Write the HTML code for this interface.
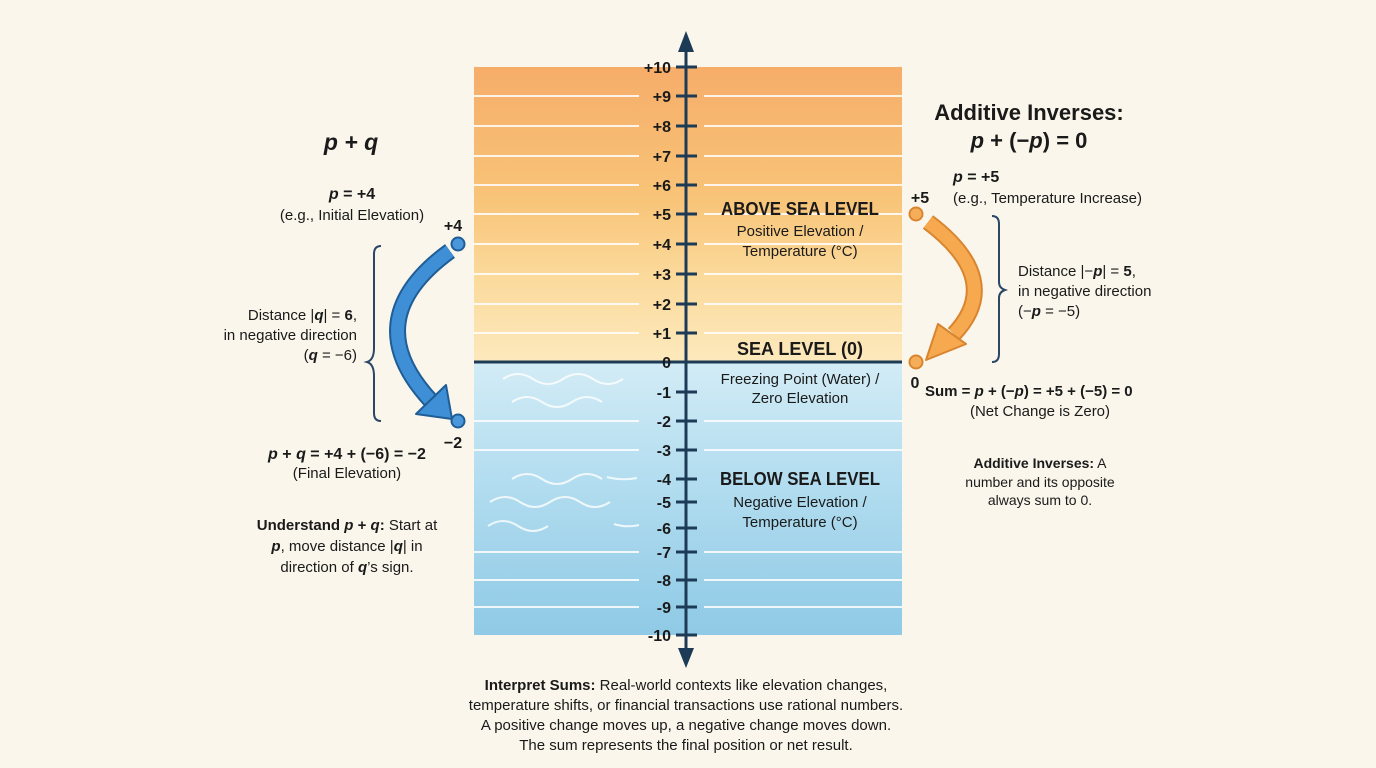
<!DOCTYPE html>
<html><head><meta charset="utf-8"><style>
html,body{margin:0;padding:0;background:#faf6eb;}
svg{display:block;font-family:"Liberation Sans",sans-serif;}
</style></head><body>
<svg width="1376" height="768" viewBox="0 0 1376 768" xmlns="http://www.w3.org/2000/svg">
<defs>
<linearGradient id="og" x1="0" y1="0" x2="0" y2="1">
<stop offset="0" stop-color="#f6ad69"/><stop offset="0.45" stop-color="#f8c478"/><stop offset="0.7" stop-color="#fbd99a"/><stop offset="1" stop-color="#fde9bd"/></linearGradient>
<linearGradient id="bg" x1="0" y1="0" x2="0" y2="1">
<stop offset="0" stop-color="#d3ecf6"/><stop offset="0.4" stop-color="#b5def0"/><stop offset="1" stop-color="#8fcae6"/></linearGradient>
</defs>
<rect width="1376" height="768" fill="#faf6eb"/>
<rect x="474" y="67" width="428" height="295" fill="url(#og)"/>
<rect x="474" y="362" width="428" height="273" fill="url(#bg)"/>
<g stroke="#fff" stroke-width="2" opacity="0.85">
<path d="M474 96H639M704 96H902M474 126H639M704 126H902M474 156H639M704 156H902M474 185H639M704 185H902M474 214H639M704 214H902M474 244H639M704 244H902M474 274H639M704 274H902M474 304H639M704 304H902M474 333H639M704 333H902"/>
<path d="M474 421H639M704 421H902M474 450H639M704 450H902M474 552H639M704 552H902M474 580H639M704 580H902M474 607H639M704 607H902"/>
</g>
<g fill="none" stroke="#fff" stroke-width="2" opacity="0.8">
<path d="M503 379q15-10 30 0q15 10 30 0q15-10 30 0q15 10 30 0"/>
<path d="M512 402q15-10 30 0q15 10 30 0q15-10 30 0"/>
<path d="M512 479q15-10 30 0q15 10 30 0q15-10 30 0"/>
<path d="M490 502q15-10 30 0q15 10 30 0q15-10 30 0q15 10 30 0"/>
<path d="M488 526q15-10 30 0q15 10 30 0"/>
<path d="M607 477q15 4 30 1"/><path d="M614 524q12 4 25 1"/>
</g>
<line x1="474" y1="362" x2="902" y2="362" stroke="#1d3b57" stroke-width="3"/>
<line x1="686" y1="45" x2="686" y2="655" stroke="#1d3b57" stroke-width="3"/>
<polygon points="686,31 678,52 694,52" fill="#1d3b57"/>
<polygon points="686,668 678,648 694,648" fill="#1d3b57"/>
<g stroke="#1d3b57" stroke-width="3">
<path d="M676 67H697M676 96H697M676 126H697M676 156H697M676 185H697M676 214H697M676 244H697M676 274H697M676 304H697M676 333H697M676 362H697M676 392H697M676 421H697M676 450H697M676 479H697M676 502H697M676 528H697M676 552H697M676 580H697M676 607H697M676 635H697"/>
</g>
<g font-weight="bold" font-size="16" fill="#1a1a1a" text-anchor="end">
<text x="671" y="73">+10</text><text x="671" y="102">+9</text><text x="671" y="132">+8</text><text x="671" y="162">+7</text><text x="671" y="191">+6</text><text x="671" y="220">+5</text><text x="671" y="250">+4</text><text x="671" y="280">+3</text><text x="671" y="310">+2</text><text x="671" y="339">+1</text><text x="671" y="368">0</text><text x="671" y="398">-1</text><text x="671" y="427">-2</text><text x="671" y="456">-3</text><text x="671" y="485">-4</text><text x="671" y="508">-5</text><text x="671" y="534">-6</text><text x="671" y="558">-7</text><text x="671" y="586">-8</text><text x="671" y="613">-9</text><text x="671" y="641">-10</text>
</g>
<g fill="#1a1a1a" text-anchor="middle">
<text x="800" y="215" font-size="18" font-weight="bold" textLength="158" lengthAdjust="spacingAndGlyphs">ABOVE SEA LEVEL</text>
<text x="800" y="236" font-size="15">Positive Elevation /</text>
<text x="800" y="256" font-size="15">Temperature (°C)</text>
<text x="800" y="355" font-size="18" font-weight="bold">SEA LEVEL (0)</text>
<text x="800" y="384" font-size="15">Freezing Point (Water) /</text>
<text x="800" y="403" font-size="15">Zero Elevation</text>
<text x="800" y="485" font-size="18" font-weight="bold" textLength="160" lengthAdjust="spacingAndGlyphs">BELOW SEA LEVEL</text>
<text x="800" y="507" font-size="15">Negative Elevation /</text>
<text x="800" y="527" font-size="15">Temperature (°C)</text>
</g>
<!-- left -->
<g fill="#1a1a1a">
<text x="351" y="150" font-size="23" font-weight="bold" font-style="italic" text-anchor="middle">p + q</text>
<text x="352" y="199" font-size="16" font-weight="bold" text-anchor="middle"><tspan font-style="italic">p</tspan> = +4</text>
<text x="352" y="220" font-size="15" text-anchor="middle">(e.g., Initial Elevation)</text>
<text x="453" y="231" font-size="16" font-weight="bold" text-anchor="middle">+4</text>
<text x="357" y="320" font-size="15" text-anchor="end">Distance |<tspan font-weight="bold" font-style="italic">q</tspan>| = <tspan font-weight="bold">6</tspan>,</text>
<text x="357" y="340" font-size="15" text-anchor="end">in negative direction</text>
<text x="357" y="360" font-size="15" text-anchor="end">(<tspan font-weight="bold" font-style="italic">q</tspan> = −6)</text>
<text x="453" y="448" font-size="16" font-weight="bold" text-anchor="middle">−2</text>
<text x="347" y="459" font-size="16" font-weight="bold" text-anchor="middle"><tspan font-style="italic">p</tspan> + <tspan font-style="italic">q</tspan> = +4 + (−6) = −2</text>
<text x="347" y="478" font-size="15" text-anchor="middle">(Final Elevation)</text>
<text x="347" y="530" font-size="15" text-anchor="middle"><tspan font-weight="bold">Understand <tspan font-style="italic">p</tspan> + <tspan font-style="italic">q</tspan>:</tspan> Start at</text>
<text x="347" y="551" font-size="15" text-anchor="middle"><tspan font-weight="bold" font-style="italic">p</tspan>, move distance |<tspan font-weight="bold" font-style="italic">q</tspan>| in</text>
<text x="347" y="572" font-size="15" text-anchor="middle">direction of <tspan font-weight="bold" font-style="italic">q</tspan>’s sign.</text>
</g>
<path d="M381 246q-7 0-7 8v94q0 12-7 14q7 2 7 14v37q0 8 7 8" fill="none" stroke="#2b4766" stroke-width="2"/>
<path d="M450 251Q355 320 432 402" fill="none" stroke="#1f5d96" stroke-width="17"/>
<path d="M450 251Q355 320 432 402" fill="none" stroke="#3f8fd6" stroke-width="13"/>
<polygon points="452,419 416,414 446,385" fill="#3f8fd6" stroke="#1f5d96" stroke-width="2" stroke-linejoin="round"/>
<circle cx="458" cy="244" r="6.5" fill="#4a96da" stroke="#1f5d96" stroke-width="2"/>
<circle cx="458" cy="421" r="6.5" fill="#4a96da" stroke="#1f5d96" stroke-width="2"/>
<!-- right -->
<g fill="#1a1a1a">
<text x="1029" y="120" font-size="22" font-weight="bold" text-anchor="middle">Additive Inverses:</text>
<text x="1029" y="148" font-size="22" font-weight="bold" text-anchor="middle"><tspan font-style="italic">p</tspan> + (−<tspan font-style="italic">p</tspan>) = 0</text>
<text x="953" y="182" font-size="16" font-weight="bold"><tspan font-style="italic">p</tspan> = +5</text>
<text x="953" y="203" font-size="15">(e.g., Temperature Increase)</text>
<text x="920" y="203" font-size="16" font-weight="bold" text-anchor="middle">+5</text>
<text x="1018" y="276" font-size="15">Distance |−<tspan font-weight="bold" font-style="italic">p</tspan>| = <tspan font-weight="bold">5</tspan>,</text>
<text x="1018" y="296" font-size="15">in negative direction</text>
<text x="1018" y="316" font-size="15">(−<tspan font-weight="bold" font-style="italic">p</tspan> = −5)</text>
<text x="915" y="388" font-size="16" font-weight="bold" text-anchor="middle">0</text>
<text x="925" y="396" font-size="15" font-weight="bold">Sum = <tspan font-style="italic">p</tspan> + (−<tspan font-style="italic">p</tspan>) = +5 + (−5) = 0</text>
<text x="1040" y="416" font-size="15" text-anchor="middle">(Net Change is Zero)</text>
<text x="1040" y="468" font-size="14" text-anchor="middle"><tspan font-weight="bold">Additive Inverses:</tspan> A</text>
<text x="1040" y="487" font-size="14" text-anchor="middle">number and its opposite</text>
<text x="1040" y="505" font-size="14" text-anchor="middle">always sum to 0.</text>
</g>
<path d="M992 216q7 0 7 8v58q0 6 6 8q-6 2-6 8v56q0 8-7 8" fill="none" stroke="#2b4766" stroke-width="2"/>
<path d="M928 222Q1005 280 954 334" fill="none" stroke="#d98530" stroke-width="17"/>
<path d="M928 222Q1005 280 954 334" fill="none" stroke="#f6a94f" stroke-width="13"/>
<polygon points="926,360 938,324 966,344" fill="#f6a94f" stroke="#d98530" stroke-width="2" stroke-linejoin="round"/>
<circle cx="916" cy="214" r="6.5" fill="#f6ad5a" stroke="#d98530" stroke-width="2"/>
<circle cx="916" cy="362" r="6.5" fill="#f6ad5a" stroke="#d98530" stroke-width="2"/>
<!-- bottom -->
<g fill="#1a1a1a" font-size="15" text-anchor="middle">
<text x="686" y="690"><tspan font-weight="bold">Interpret Sums:</tspan> Real-world contexts like elevation changes,</text>
<text x="686" y="710">temperature shifts, or financial transactions use rational numbers.</text>
<text x="686" y="730">A positive change moves up, a negative change moves down.</text>
<text x="686" y="750">The sum represents the final position or net result.</text>
</g>
</svg>
</body></html>
